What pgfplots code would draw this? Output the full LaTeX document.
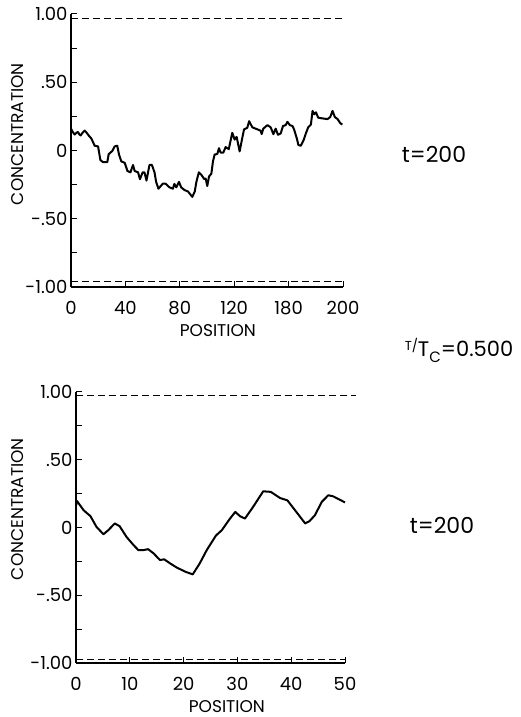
\documentclass[border=0pt]{standalone}
\usepackage{pgfplots}
\pgfplotsset{compat=1.18}
\usepackage{fontspec}
\setmainfont{Poppins}
\begin{document}
\begin{tikzpicture}
\pgfplotsset{
 myax/.style={
  scale only axis,
  axis x line=bottom, axis y line=left,
  axis line style={-, line width=1.2pt},
  tick align=inside,
  major tick length=6pt, minor tick length=6pt,
  ymin=-1, ymax=1,
  ytick={-1,-0.5,0,0.5,1},
  yticklabels={-1.00,-.50,0,.50,1.00},
  minor ytick={-0.75,-0.25,0.25,0.75},
  tick style={line width=1pt, black},
  /pgf/number format/assume math mode=true,
  ticklabel style={font=\fontsize{18}{20}\selectfont},
  label style={font=\fontsize{17}{19}\selectfont},
  xticklabel style={yshift=-11pt},
  clip=false,
 },
 dash/.style={black, line width=0.8pt, dash pattern=on 7pt off 4pt},
 curve/.style={black, line width=2pt, line join=round},
}
\begin{axis}[myax, at={(71pt,430pt)}, anchor=south west, width=272pt, height=273pt,
  xmin=0, xmax=200, xtick={0,40,80,120,160,200}, xticklabels={0,40,80,120,180,200},
  xlabel={POSITION}, ylabel={CONCENTRATION},
  xlabel style={at={(axis description cs:0.54,-0.158)}, anchor=center},
  ylabel style={at={(axis description cs:-0.197,0.56)}, anchor=center}]
\addplot[dash] coordinates {(0,0.966) (200,0.966)};
\addplot[dash] coordinates {(0,-0.96) (200,-0.96)};
\addplot[curve] coordinates {
(0,0.16) (1,0.14) (2.7,0.117) (4,0.13) (5.1,0.136) (6,0.12) (7.1,0.11) (8.5,0.13)
(10,0.146) (11.5,0.13) (13,0.11) (15,0.087) (17.4,0.035) (19.9,0.03) (21.6,-0.07)
(23.5,-0.085) (26.7,-0.085) (27.7,-0.027) (30.4,-0.003) (32.1,0.03) (34,0.035)
(35.3,-0.03) (37,-0.08) (39.5,-0.09) (41.5,-0.15) (43.7,-0.16) (45.6,-0.106)
(46.8,-0.15) (49.3,-0.16) (50.7,-0.21) (52.7,-0.16) (54,-0.16) (55.5,-0.22)
(57.7,-0.106) (59.5,-0.106) (61.4,-0.16) (62.6,-0.23) (64.3,-0.28) (67.5,-0.243)
(69.5,-0.243) (72.4,-0.27) (74.9,-0.28) (76,-0.245) (77.4,-0.27) (79.4,-0.23)
(81,-0.27) (83.5,-0.29) (86,-0.30) (89.2,-0.34) (91,-0.30) (92.2,-0.23) (94,-0.16)
(96,-0.18) (98,-0.21) (99,-0.205) (100.2,-0.26) (101.5,-0.19) (103.2,-0.17)
(104.4,-0.08) (105.6,-0.03) (107.6,-0.025) (108.8,0.017) (110,-0.015) (112,-0.015)
(113.7,0.025) (116,0.01) (118.6,0.13) (120.3,0.08) (121.8,0.10) (124,-0.007)
(125.2,0.055) (127.2,0.154) (129.6,0.166) (131,0.215) (133.3,0.17) (135.8,0.16)
(139.4,0.145) (140.2,0.12) (141.4,0.16) (144.4,0.186) (146.8,0.17) (148.8,0.12)
(150.5,0.16) (152.2,0.115) (154.2,0.125) (155.9,0.18) (157.8,0.185) (159.1,0.21)
(161,0.185) (162.8,0.18) (164,0.155) (166,0.09) (167.2,0.04) (169,0.035) (171,0.075)
(172.7,0.125) (174.4,0.17) (176.4,0.19) (177.6,0.29) (178.9,0.265) (180.1,0.28)
(181.8,0.24) (185,0.235) (188.6,0.23) (190.6,0.245) (192.3,0.29) (194,0.245)
(196,0.23) (198,0.2) (199.5,0.19)};
\end{axis}
\begin{axis}[myax, at={(76pt,54pt)}, anchor=south west, width=269pt, height=271pt,
  xmin=0, xmax=50, xtick={0,10,20,30,40,50}, xticklabels={0,10,20,30,40,50},
  xlabel={POSITION}, ylabel={CONCENTRATION},
  xlabel style={at={(axis description cs:0.561,-0.159)}, anchor=center},
  ylabel style={at={(axis description cs:-0.217,0.568)}, anchor=center}]
\addplot[dash] coordinates {(0,0.977) (52,0.977)};
\addplot[dash] coordinates {(0,-0.973) (50,-0.973)};
\addplot[curve] coordinates {
(0,0.16) (0.2,0.195) (1.4,0.128) (2.7,0.083) (3.8,0.005) (5.1,-0.05) (6,-0.02)
(7.2,0.03) (8.1,0.01) (9.4,-0.07) (10.7,-0.13) (11.6,-0.167) (12.5,-0.167)
(13.4,-0.16) (14.4,-0.19) (15.6,-0.24) (16.4,-0.235) (17.5,-0.265) (18.7,-0.295)
(20.3,-0.326) (21.7,-0.346) (23,-0.265) (24.3,-0.167) (26,-0.06) (27.1,-0.02)
(28.5,0.059) (29.6,0.115) (30.5,0.083) (31.4,0.066) (32.8,0.145) (34.8,0.267)
(36.2,0.263) (37.9,0.218) (39.3,0.2) (40.7,0.128) (42.6,0.03) (43.4,0.047)
(44.4,0.09) (45.7,0.19) (46.9,0.238) (47.8,0.23) (48.8,0.21) (50,0.185)};
\end{axis}
\node[font=\fontsize{22}{24}\selectfont] at (434pt,563pt) {t=200};
\node[font=\fontsize{21}{23}\selectfont] at (459pt,367pt) {\raisebox{6pt}{\fontsize{13}{15}\selectfont T/}T\raisebox{-6pt}{\fontsize{15}{17}\selectfont C}=0.500};
\node[font=\fontsize{22}{24}\selectfont] at (442pt,192pt) {t=200};
\pgfresetboundingbox
\path[use as bounding box] (0pt,0pt) rectangle (521pt,717pt);
\end{tikzpicture}
\end{document}
